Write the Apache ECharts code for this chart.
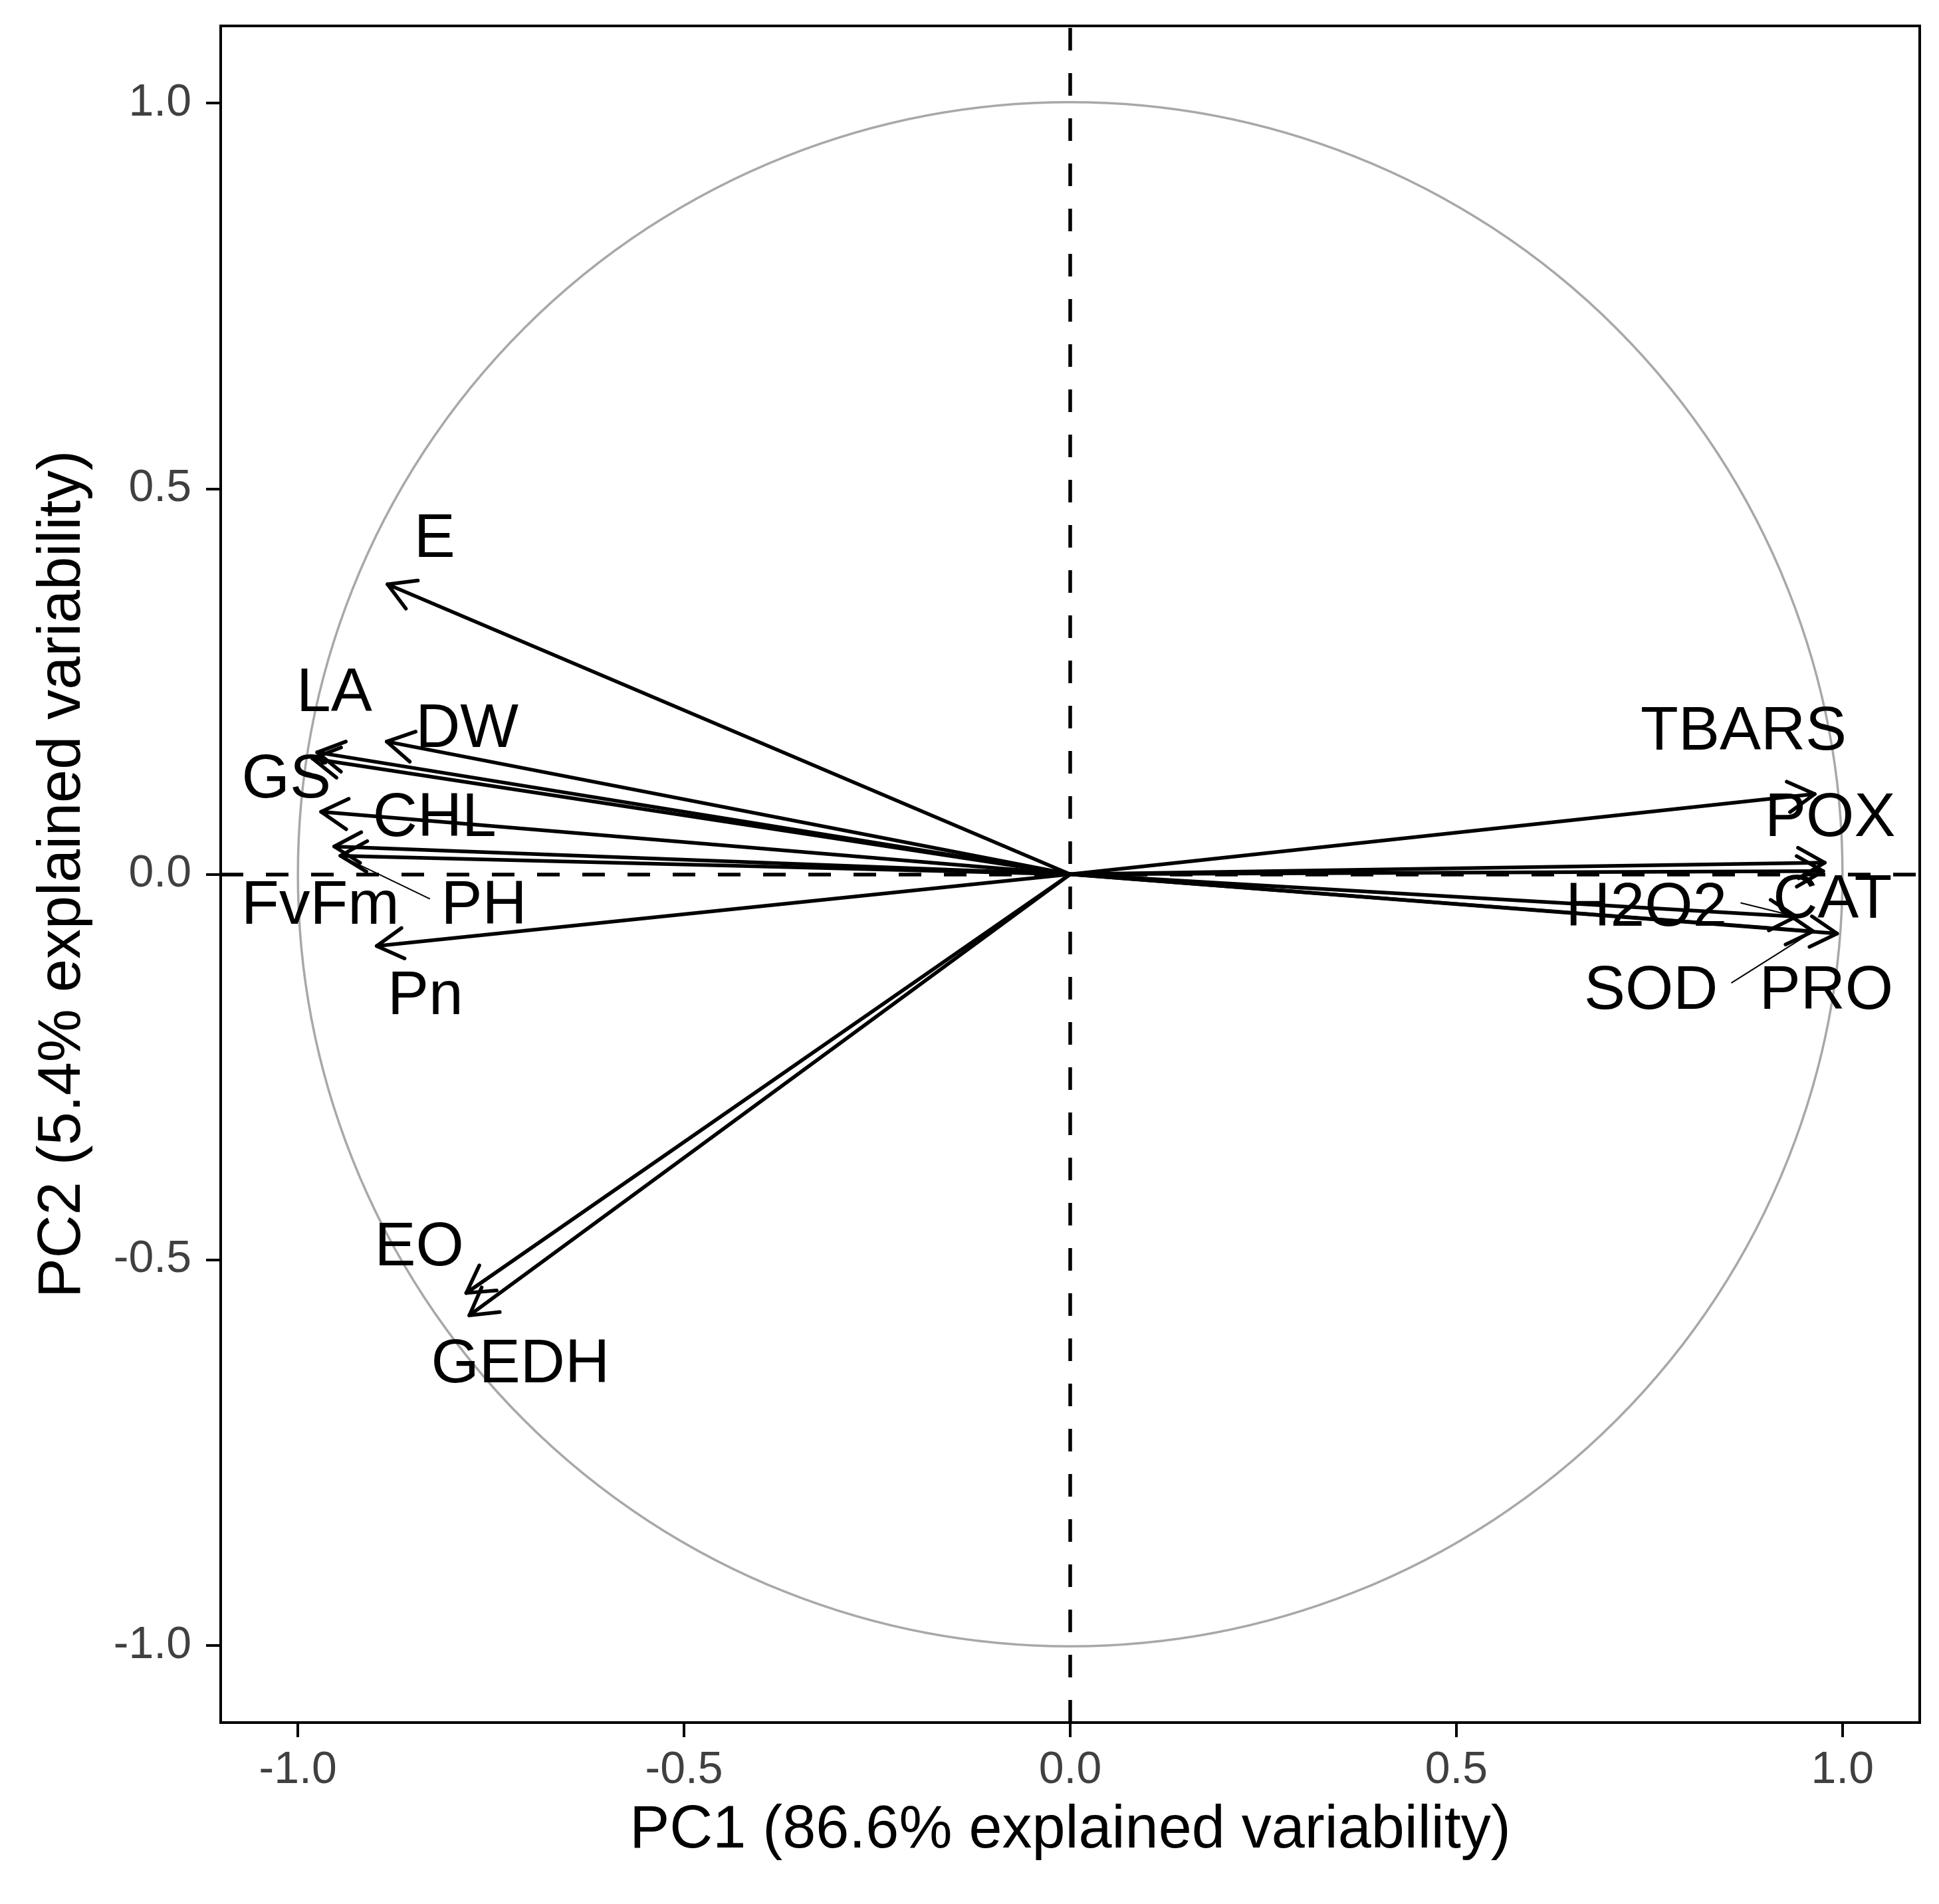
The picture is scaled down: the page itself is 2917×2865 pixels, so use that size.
<!DOCTYPE html>
<html>
<head>
<meta charset="utf-8">
<script src="https://cdn.jsdelivr.net/npm/echarts@6/dist/echarts.min.js"></script>
<style>
  html, body { margin: 0; padding: 0; background: #fff; }
  #chart { width: 2917px; height: 2865px; }
</style>
</head>
<body>
<div id="chart"></div>
<script>
// PCA variable loadings (arrow tips)
const variables = ['E', 'LA', 'DW', 'GS', 'CHL', 'FvFm', 'PH', 'Pn', 'EO', 'GEDH',
                   'TBARS', 'POX', 'H2O2', 'CAT', 'SOD', 'PRO'];
const pc1 = [-0.884, -0.975, -0.885, -0.981, -0.970, -0.953, -0.945, -0.898, -0.782, -0.778,
             0.964, 0.977, 0.940, 0.975, 0.962, 0.993];
const pc2 = [0.376, 0.158, 0.172, 0.150, 0.081, 0.036, 0.024, -0.093, -0.543, -0.572,
             0.104, 0.015, -0.055, 0.004, -0.074, -0.077];

// where the (repelled) text labels sit, in PC units
const labelPC1 = [-0.823, -0.953, -0.781, -1.015, -0.823, -0.971, -0.759, -0.835, -0.843, -0.712,
                  0.872, 0.984, 0.746, 0.987, 0.752, 0.979];
const labelPC2 = [0.434, 0.234, 0.187, 0.122, 0.072, -0.042, -0.042, -0.159, -0.485, -0.637,
                  0.184, 0.072, -0.045, -0.034, -0.152, -0.152];

// labels that got a connector segment back to their point
const repelNames = ['PH', 'H2O2', 'SOD'];
const repelStartPC1 = [-0.829, 0.868, 0.856];
const repelStartPC2 = [-0.032, -0.037, -0.141];

const tickValues = [-1.0, -0.5, 0.0, 0.5, 1.0];
const circleRadius = [1];

const FONT = '"Liberation Sans", Arial, Helvetica, sans-serif';

const chart = echarts.init(document.getElementById('chart'));

const arrowData = variables.map((v, i) => [pc1[i], pc2[i], v]);
const labelData = variables.map((v, i) => [labelPC1[i], labelPC2[i], v]);
const repelData = repelNames.map((v, i) => {
  const k = variables.indexOf(v);
  return [repelStartPC1[i], repelStartPC2[i], pc1[k], pc2[k]];
});

function renderArrow(params, api) {
  const p0 = api.coord([0, 0]);
  const p1 = api.coord([api.value(0), api.value(1)]);
  const a = Math.atan2(p1[1] - p0[1], p1[0] - p0[0]);
  const len = 46, spread = Math.PI / 6;
  const h1 = [p1[0] - len * Math.cos(a - spread), p1[1] - len * Math.sin(a - spread)];
  const h2 = [p1[0] - len * Math.cos(a + spread), p1[1] - len * Math.sin(a + spread)];
  const style = { stroke: '#000', lineWidth: 5.5, fill: null, lineCap: 'round', lineJoin: 'round' };
  return {
    type: 'group',
    children: [
      { type: 'line', shape: { x1: p0[0], y1: p0[1], x2: p1[0], y2: p1[1] }, style: style },
      { type: 'polyline', shape: { points: [h1, p1, h2] }, style: style }
    ]
  };
}

function renderCircle(params, api) {
  const c = api.coord([0, 0]);
  const r = api.size([api.value(0), 0])[0];
  return {
    type: 'circle',
    shape: { cx: c[0], cy: c[1], r: r },
    style: { stroke: '#a8a8a8', lineWidth: 3.5, fill: null }
  };
}

function renderLabel(params, api) {
  const p = api.coord([api.value(0), api.value(1)]);
  return {
    type: 'text',
    x: p[0],
    y: p[1],
    style: {
      text: api.value(2),
      fontSize: 93,
      fontFamily: FONT,
      fill: '#000',
      align: 'center',
      verticalAlign: 'middle'
    }
  };
}

function renderRepel(params, api) {
  const a = api.coord([api.value(0), api.value(1)]);
  const b = api.coord([api.value(2), api.value(3)]);
  return {
    type: 'line',
    shape: { x1: a[0], y1: a[1], x2: b[0], y2: b[1] },
    style: { stroke: '#000', lineWidth: 2 }
  };
}

const axisCommon = {
  type: 'value',
  min: -1.1,
  max: 1.1,
  nameLocation: 'middle',
  nameTextStyle: { fontSize: 90, fontFamily: FONT, color: '#000' },
  axisLine: { show: true, onZero: false, lineStyle: { color: '#000', width: 4 } },
  axisTick: { show: true, inside: false, length: 22, customValues: tickValues,
              lineStyle: { color: '#000', width: 4 } },
  axisLabel: { fontSize: 68, fontFamily: FONT, color: '#404040', customValues: tickValues,
               formatter: (v) => v.toFixed(1) },
  splitLine: { show: false }
};

chart.setOption({
  animation: false,
  backgroundColor: '#fff',
  grid: {
    left: 332, right: 29, top: 39, bottom: 273,
    show: true, borderColor: '#000', borderWidth: 4, backgroundColor: 'transparent'
  },
  xAxis: Object.assign({}, axisCommon, {
    name: 'PC1 (86.6% explained variability)',
    nameGap: 118,
    axisLabel: Object.assign({}, axisCommon.axisLabel, { margin: 38 })
  }),
  yAxis: Object.assign({}, axisCommon, {
    name: 'PC2 (5.4% explained variability)',
    nameGap: 192,
    axisLabel: Object.assign({}, axisCommon.axisLabel, { margin: 44 })
  }),
  series: [
    {
      name: 'circle',
      type: 'custom',
      renderItem: renderCircle,
      data: circleRadius.map(r => [r]),
      silent: true,
      z: 1,
      markLine: {
        silent: true,
        symbol: ['none', 'none'],
        label: { show: false },
        lineStyle: { color: '#000', width: 5.5, type: [34, 34] },
        data: [{ xAxis: 0 }, { yAxis: 0 }]
      }
    },
    {
      name: 'loadings',
      type: 'custom',
      renderItem: renderArrow,
      data: arrowData,
      z: 3
    },
    {
      name: 'repel',
      type: 'custom',
      renderItem: renderRepel,
      data: repelData,
      z: 3
    },
    {
      name: 'labels',
      type: 'custom',
      renderItem: renderLabel,
      data: labelData,
      z: 4
    }
  ]
});
</script>
</body>
</html>
